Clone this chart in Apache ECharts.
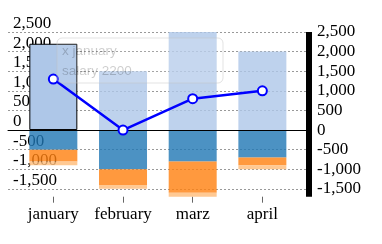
<!DOCTYPE html>
<html>
<head>
<meta charset="utf-8">
<script src="https://cdn.jsdelivr.net/npm/echarts@6/dist/echarts.min.js"></script>
<style>html,body{margin:0;padding:0;background:#fff}#c{width:382px;height:244px}</style>
</head>
<body>
<div id="c"></div>
<script>
const categories = ['january', 'february', 'marz', 'april'];
const salary = [2200, 1500, 2500, 2000];
const negA = [-500, -1000, -800, -700];
const negB = [-300, -400, -800, -200];
const negC = [-100, -100, -100, -100];
const lineValues = [1300, 0, 800, 1000];
const tickValues = [-1500, -1000, -500, 0, 500, 1000, 1500, 2000, 2500];
const yMin = -1700, yMax = 2500;
const tipLines = ['x january', 'salary 2200'];

const fmt = v => Number(v).toLocaleString('en-US');
const serif = 'Liberation Serif';

const chart = echarts.init(document.getElementById('c'), null, {renderer: 'canvas'});
chart.setOption({
  animation: false,
  grid: [
    {left: 8, top: 32, width: 301, height: 164.7},
    {left: 18.5, top: 32, width: 278.7, height: 164.7}
  ],
  xAxis: [
    {gridIndex: 0, type: 'value', min: 0, max: 1, z: 3,
     axisLine: {show: true, onZero: true, lineStyle: {color: '#000', width: 1}},
     axisTick: {show: false}, axisLabel: {show: false}, splitLine: {show: false}},
    {gridIndex: 1, type: 'category', data: categories, position: 'bottom',
     axisLine: {show: false, onZero: false},
     axisTick: {show: true, alignWithLabel: true, length: 6, lineStyle: {color: '#666'}},
     axisLabel: {interval: 0, fontFamily: serif, fontSize: 17, color: '#000', margin: 9}}
  ],
  yAxis: [
    {gridIndex: 0, type: 'value', min: yMin, max: yMax, position: 'left', z: 0,
     axisLine: {show: false},
     axisTick: {show: false, customValues: tickValues},
     axisLabel: {inside: true, customValues: tickValues, formatter: fmt, verticalAlign: 'bottom',
                 fontFamily: serif, fontSize: 17, color: '#000', margin: 5},
     splitLine: {show: true, lineStyle: {type: [2, 2], color: '#999', width: 1}}},
    {gridIndex: 0, type: 'value', min: yMin, max: yMax, position: 'right', z: 3,
     axisLine: {show: true, lineStyle: {color: '#000', width: 6, cap: 'butt'}},
     axisTick: {show: false, customValues: tickValues},
     axisLabel: {customValues: tickValues, formatter: fmt, fontFamily: serif, fontSize: 17,
                 color: '#000', margin: 8},
     splitLine: {show: false}},
    {gridIndex: 1, type: 'value', min: yMin, max: yMax, show: false}
  ],
  series: [
    {type: 'bar', xAxisIndex: 1, yAxisIndex: 2, stack: 's', barWidth: 48,
     data: salary.map((v, i) => i === 0
       ? {value: v, itemStyle: {opacity: 1, borderColor: '#000', borderWidth: 1}}
       : v),
     itemStyle: {color: '#aec7e8', opacity: 0.8}},
    {type: 'bar', xAxisIndex: 1, yAxisIndex: 2, stack: 's', barWidth: 48, data: negA,
     itemStyle: {color: '#1f77b4', opacity: 0.8}},
    {type: 'bar', xAxisIndex: 1, yAxisIndex: 2, stack: 's', barWidth: 48, data: negB,
     itemStyle: {color: '#ff7f0e', opacity: 0.8}},
    {type: 'bar', xAxisIndex: 1, yAxisIndex: 2, stack: 's', barWidth: 48, data: negC,
     itemStyle: {color: '#ffbb78', opacity: 0.8}},
    {type: 'line', xAxisIndex: 1, yAxisIndex: 2, data: lineValues, z: 5,
     lineStyle: {color: '#0000ff', width: 2.5},
     symbol: 'circle', symbolSize: 9,
     itemStyle: {color: '#fff', borderColor: '#0000ff', borderWidth: 2}}
  ],
  graphic: [
    {type: 'rect', z: 100, shape: {x: 57, y: 38, width: 166, height: 45, r: 5},
     style: {fill: 'rgba(255,255,255,0.12)', stroke: 'rgba(190,190,190,0.45)', lineWidth: 1}},
    {type: 'text', z: 101, x: 62, y: 44,
     style: {text: tipLines[0], fill: 'rgba(0,0,0,0.2)', font: '13.5px "Liberation Sans"', verticalAlign: 'top'}},
    {type: 'text', z: 101, x: 62, y: 64,
     style: {text: tipLines[1], fill: 'rgba(0,0,0,0.2)', font: '13.5px "Liberation Sans"', verticalAlign: 'top'}}
  ]
});
</script>
</body>
</html>
